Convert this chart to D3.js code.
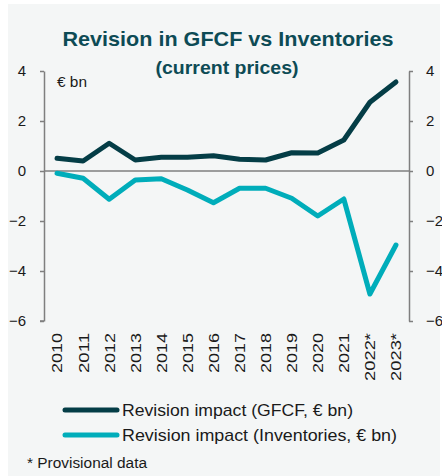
<!DOCTYPE html>
<html><head><meta charset="utf-8">
<script src="https://cdn.jsdelivr.net/npm/d3@7"></script>
<style>html,body{margin:0;padding:0;background:#fff}svg{display:block}</style>
</head><body>
<script>
const years = ["2010","2011","2012","2013","2014","2015","2016","2017","2018","2019","2020","2021","2022*","2023*"];
const gfcf = [0.51,0.40,1.11,0.44,0.55,0.55,0.61,0.47,0.44,0.73,0.72,1.24,2.75,3.56];
const inventories = [-0.09,-0.29,-1.13,-0.36,-0.31,-0.76,-1.27,-0.69,-0.69,-1.09,-1.80,-1.12,-4.92,-2.96];
const yTicks = [4,2,0,-2,-4,-6];
const seriesNames = ["Revision impact (GFCF, € bn)","Revision impact (Inventories, € bn)"];
const colors = ["#043d46","#00adba"];

const W=442,H=476;
const svg=d3.select("body").append("svg").attr("width",W).attr("height",H);
const font="Liberation Sans, Arial, sans-serif";
svg.append("rect").attr("x",8).attr("y",4).attr("width",432).attr("height",472).attr("fill","#f4f6f6");

const x=d3.scalePoint().domain(years).range([44,409]).padding(0.5);
const y=d3.scaleLinear().domain([-6,4]).range([321,71]);

function fit(sel,w){sel.attr("textLength",w).attr("lengthAdjust","spacingAndGlyphs");return sel;}

// title
fit(svg.append("text").attr("x",228).attr("y",46).attr("text-anchor","middle")
  .attr("font-family",font).attr("font-weight","bold").attr("font-size",21).attr("fill","#0d4b55")
  .text("Revision in GFCF vs Inventories"),331);
fit(svg.append("text").attr("x",227).attr("y",74).attr("text-anchor","middle")
  .attr("font-family",font).attr("font-weight","bold").attr("font-size",18).attr("fill","#0d4b55")
  .text("(current prices)"),143);

// axes
const axL=svg.append("g").attr("transform","translate(44,0)").call(d3.axisLeft(y).tickValues(yTicks).tickSize(4).tickSizeOuter(0).tickPadding(13).tickFormat(d3.format("d")));
const axR=svg.append("g").attr("transform","translate(409,0)").call(d3.axisRight(y).tickValues(yTicks).tickSize(4).tickSizeOuter(0).tickPadding(13).tickFormat(d3.format("d")));
[axL,axR].forEach(a=>{
  a.select(".domain").attr("stroke","#7f7f7f").attr("stroke-width",1.5);
  a.selectAll(".tick line").attr("stroke","#7f7f7f").attr("stroke-width",1.5);
  a.selectAll(".tick text").attr("font-family",font).attr("font-size",15).attr("fill","#1a1a1a");
});
axL.selectAll(".tick text").attr("dx",-1);
axR.selectAll(".tick text").attr("text-anchor","start");
// corner hooks at top/bottom of axes
svg.append("line").attr("x1",40).attr("x2",44).attr("y1",y(-6)).attr("y2",y(-6)).attr("stroke","#7f7f7f").attr("stroke-width",1.5);

// zero line
svg.append("line").attr("x1",44).attr("x2",409).attr("y1",y(0)).attr("y2",y(0)).attr("stroke","#7f7f7f").attr("stroke-width",1.5);

// x labels
const xl=svg.append("g");
years.forEach(yr=>{
  fit(xl.append("text").attr("transform",`translate(${x(yr)},333) rotate(-90)`).attr("dy","0.36em")
    .attr("text-anchor","end").attr("font-family",font).attr("font-size",15).attr("fill","#1a1a1a").text(yr),
    yr.length===4?40:48);
});

// unit label
fit(svg.append("text").attr("x",57).attr("y",87).attr("font-family",font).attr("font-size",14).attr("fill","#1a1a1a").text("€ bn"),30);

// lines
const line=d3.line().x((d,i)=>x(years[i])).y(d=>y(d));
[gfcf,inventories].forEach((s,k)=>{
  svg.append("path").datum(s).attr("d",line).attr("fill","none").attr("stroke",colors[k])
    .attr("stroke-width",5).attr("stroke-linejoin","round").attr("stroke-linecap","round");
});

// legend
const legY=[410,435], legW=[231,275];
seriesNames.forEach((n,k)=>{
  svg.append("line").attr("x1",65).attr("x2",117).attr("y1",legY[k]).attr("y2",legY[k])
    .attr("stroke",colors[k]).attr("stroke-width",5).attr("stroke-linecap","round");
  fit(svg.append("text").attr("x",122).attr("y",legY[k]+6).attr("font-family",font).attr("font-size",17).attr("fill","#1a1a1a").text(n),legW[k]);
});

fit(svg.append("text").attr("x",27).attr("y",468).attr("font-family",font).attr("font-size",14).attr("fill","#1a1a1a").text("* Provisional data"),120);
</script>
</body></html>
